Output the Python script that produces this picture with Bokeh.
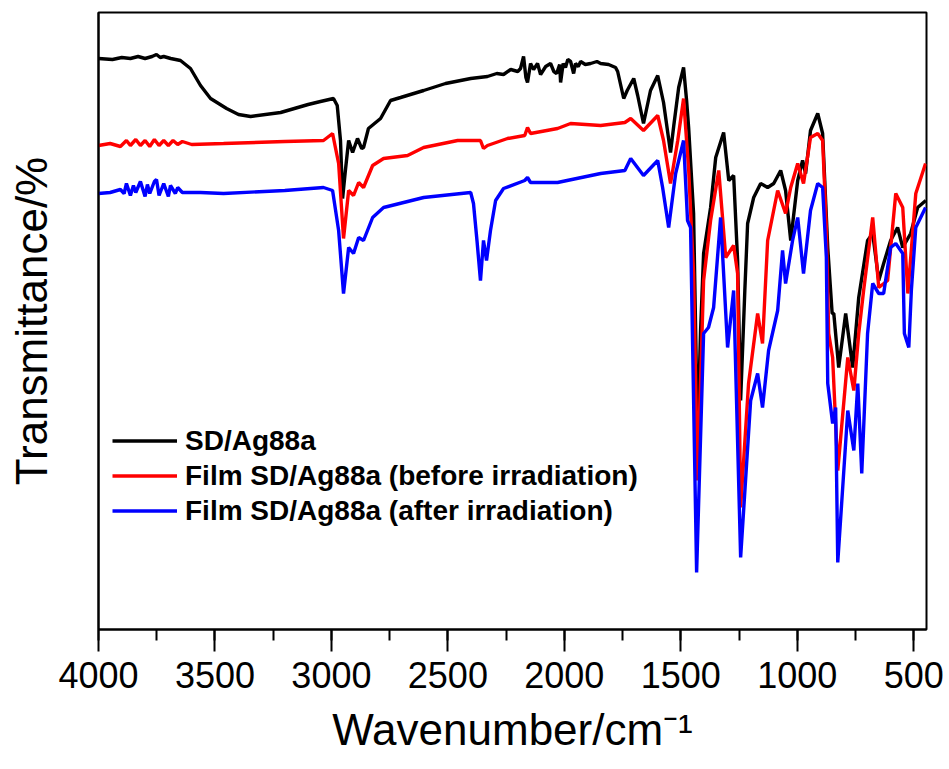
from bokeh.plotting import figure
from bokeh.models import Range1d, SingleIntervalTicker, FixedTicker, Legend, LegendItem
from bokeh.embed import file_html
from bokeh.resources import INLINE

# Wavenumber (cm^-1) and transmittance (arbitrary units)
black_wn = [4000, 3940, 3900, 3863, 3830, 3800, 3770, 3751, 3735, 3720, 3690, 3648, 3605, 3562, 3519, 3450,
            3399, 3347, 3218, 3100, 3047, 2991, 2975, 2961, 2952, 2940, 2926, 2909, 2888, 2870, 2862, 2841,
            2789, 2746, 2703, 2604, 2510, 2402, 2330, 2290, 2261, 2230, 2200, 2188, 2175, 2165, 2158, 2145,
            2132, 2115, 2102, 2080, 2059, 2045, 2033, 2020, 2016, 2005, 1995, 1985, 1973, 1960, 1952, 1940,
            1930, 1910, 1887, 1860, 1844, 1810, 1780, 1771, 1745, 1730, 1702, 1685, 1660, 1630, 1599, 1574,
            1544, 1530, 1509, 1488, 1475, 1466, 1445, 1428, 1415, 1402, 1372, 1350, 1316, 1294, 1273, 1256,
            1243, 1225, 1213, 1187, 1157, 1127, 1101, 1071, 1050, 1028, 998, 977, 964, 943, 912, 891,
            869, 850, 843, 822, 792, 762, 736, 698, 676, 650, 629, 599, 569, 547, 513, 483, 448]
black_t = [571, 570, 572, 571, 573, 571, 573, 575, 572, 573, 571, 569, 561, 544, 531, 521,
           515, 513, 517, 525, 528, 531, 524, 489, 431, 459, 489, 477, 491, 481, 482, 501,
           511, 529, 532, 539, 546, 551, 553, 556, 555, 560, 558, 561, 573, 552, 547, 566,
           560, 566, 555, 563, 566, 558, 556, 565, 547, 566, 562, 570, 568, 556, 566, 563,
           568, 565, 566, 568, 566, 565, 562, 558, 531, 539, 551, 534, 506, 539, 554, 527,
           477, 504, 542, 562, 529, 501, 416, 189, 299, 376, 422, 472, 497, 449, 454, 369,
           229, 339, 406, 432, 446, 442, 446, 459, 439, 389, 449, 469, 456, 499, 516, 496,
           382, 316, 316, 262, 316, 262, 332, 389, 396, 349, 366, 389, 402, 382, 396, 422, 429]

red_wn = [4000, 3950, 3906, 3880, 3863, 3840, 3820, 3800, 3780, 3760, 3740, 3720, 3700, 3680, 3660, 3640,
          3600, 3463, 3200, 3034, 2995, 2969, 2948, 2926, 2905, 2883, 2862, 2823, 2776, 2673, 2604, 2458,
          2360, 2347, 2330, 2244, 2170, 2158, 2145, 2029, 1973, 1844, 1740, 1715, 1660, 1599, 1574, 1544,
          1513, 1488, 1466, 1445, 1428, 1402, 1372, 1337, 1307, 1273, 1256, 1243, 1209, 1170, 1149, 1127,
          1084, 1050, 1028, 998, 973, 943, 912, 891, 875, 865, 848, 826, 783, 757, 736, 715,
          676, 650, 612, 577, 547, 525, 491, 449]
red_t = [484, 486, 483, 489, 484, 490, 484, 489, 483, 490, 484, 489, 484, 489, 485, 488,
         485, 486, 488, 489, 496, 466, 391, 439, 434, 447, 442, 464, 471, 474, 482, 489,
         489, 481, 484, 491, 494, 502, 496, 501, 506, 504, 507, 511, 499, 514, 489, 446,
         489, 531, 459, 356, 149, 349, 409, 459, 372, 384, 356, 122, 246, 316, 286, 389,
         439, 416, 442, 466, 446, 492, 496, 489, 402, 296, 272, 159, 272, 239, 296, 339,
         412, 342, 349, 436, 422, 336, 436, 466]

blue_wn = [4000, 3950, 3906, 3890, 3880, 3863, 3850, 3840, 3820, 3800, 3790, 3780, 3760, 3751, 3740, 3720,
           3700, 3691, 3670, 3660, 3640, 3562, 3463, 3200, 3034, 2995, 2969, 2948, 2926, 2905, 2883, 2862,
           2823, 2776, 2604, 2402, 2390, 2375, 2360, 2347, 2334, 2317, 2295, 2261, 2170, 2158, 2145, 2029,
           1844, 1740, 1715, 1660, 1599, 1578, 1552, 1522, 1488, 1471, 1458, 1432, 1402, 1381, 1359, 1329,
           1299, 1273, 1243, 1200, 1170, 1149, 1123, 1084, 1063, 1050, 1020, 998, 973, 943, 912, 891,
           875, 869, 848, 835, 826, 783, 757, 740, 723, 698, 676, 650, 629, 599, 577, 547,
           540, 521, 510, 491, 449]
blue_t = [436, 437, 440, 436, 446, 434, 444, 437, 448, 433, 445, 436, 448, 450, 434, 446,
          433, 444, 436, 442, 437, 437, 436, 439, 442, 439, 399, 336, 382, 376, 392, 389,
          412, 422, 432, 437, 426, 389, 349, 389, 369, 399, 429, 441, 449, 452, 447, 447,
          456, 459, 471, 454, 469, 442, 402, 456, 489, 409, 402, 57, 296, 302, 322, 412,
          282, 339, 72, 229, 256, 222, 279, 319, 379, 346, 389, 412, 356, 419, 446, 442,
          372, 246, 206, 222, 67, 219, 179, 246, 156, 296, 346, 336, 336, 382, 386, 376,
          296, 282, 339, 402, 422]

series_names = ["SD/Ag88a", "Film SD/Ag88a (before irradiation)", "Film SD/Ag88a (after irradiation)"]
series_colors = ["#000000", "#ff0000", "#0000ff"]

FONT = "Liberation Sans"

p = figure(width=949, height=769, output_backend="svg", toolbar_location=None,
           x_range=Range1d(4000, 445), y_range=Range1d(0, 617),
           min_border_left=98, min_border_right=23, min_border_top=12, min_border_bottom=140)
p.background_fill_color = "white"
p.border_fill_color = "white"
p.grid.visible = False
p.outline_line_color = "black"
p.outline_line_width = 2

r1 = p.line(black_wn, black_t, line_color=series_colors[0], line_width=3.4)
r2 = p.line(red_wn, red_t, line_color=series_colors[1], line_width=3.4)
r3 = p.line(blue_wn, blue_t, line_color=series_colors[2], line_width=3.4)

xa = p.xaxis[0]
xa.ticker = SingleIntervalTicker(interval=500, num_minor_ticks=2)
xa.axis_line_width = 2
xa.axis_line_color = "black"
xa.major_tick_line_width = 2
xa.minor_tick_line_width = 2
xa.major_tick_line_color = "black"
xa.minor_tick_line_color = "black"
xa.major_tick_out = 22
xa.major_tick_in = 0
xa.minor_tick_out = 11
xa.minor_tick_in = 0
xa.major_label_text_font = FONT
xa.major_label_text_font_size = "36px"
xa.major_label_text_color = "black"
xa.major_label_standoff = 10
xa.axis_label = "Wavenumber/cm\u207b\u00b9"
xa.axis_label_text_font = FONT
xa.axis_label_text_font_size = "44px"
xa.axis_label_text_font_style = "normal"
xa.axis_label_text_color = "black"
xa.axis_label_standoff = 14

ya = p.yaxis[0]
ya.ticker = FixedTicker(ticks=[])
ya.axis_line_width = 2
ya.axis_line_color = "black"
ya.major_tick_line_color = None
ya.minor_tick_line_color = None
ya.major_label_text_font_size = "0px"
ya.axis_label = "Transmittance/%"
ya.axis_label_text_font = FONT
ya.axis_label_text_font_size = "44px"
ya.axis_label_text_font_style = "normal"
ya.axis_label_text_color = "black"
ya.axis_label_standoff = 43

legend = Legend(items=[LegendItem(label=series_names[0], renderers=[r1]),
                       LegendItem(label=series_names[1], renderers=[r2]),
                       LegendItem(label=series_names[2], renderers=[r3])],
                location=(14, 101))
legend.border_line_color = None
legend.background_fill_alpha = 0
legend.padding = 0
legend.margin = 0
legend.spacing = 0
legend.glyph_width = 65
legend.glyph_height = 35
legend.label_height = 35
legend.label_standoff = 8
legend.label_text_font = FONT
legend.label_text_font_style = "bold"
legend.label_text_font_size = "28px"
legend.label_text_color = "black"
p.add_layout(legend)

open("out.html", "w").write(file_html(p, INLINE))
